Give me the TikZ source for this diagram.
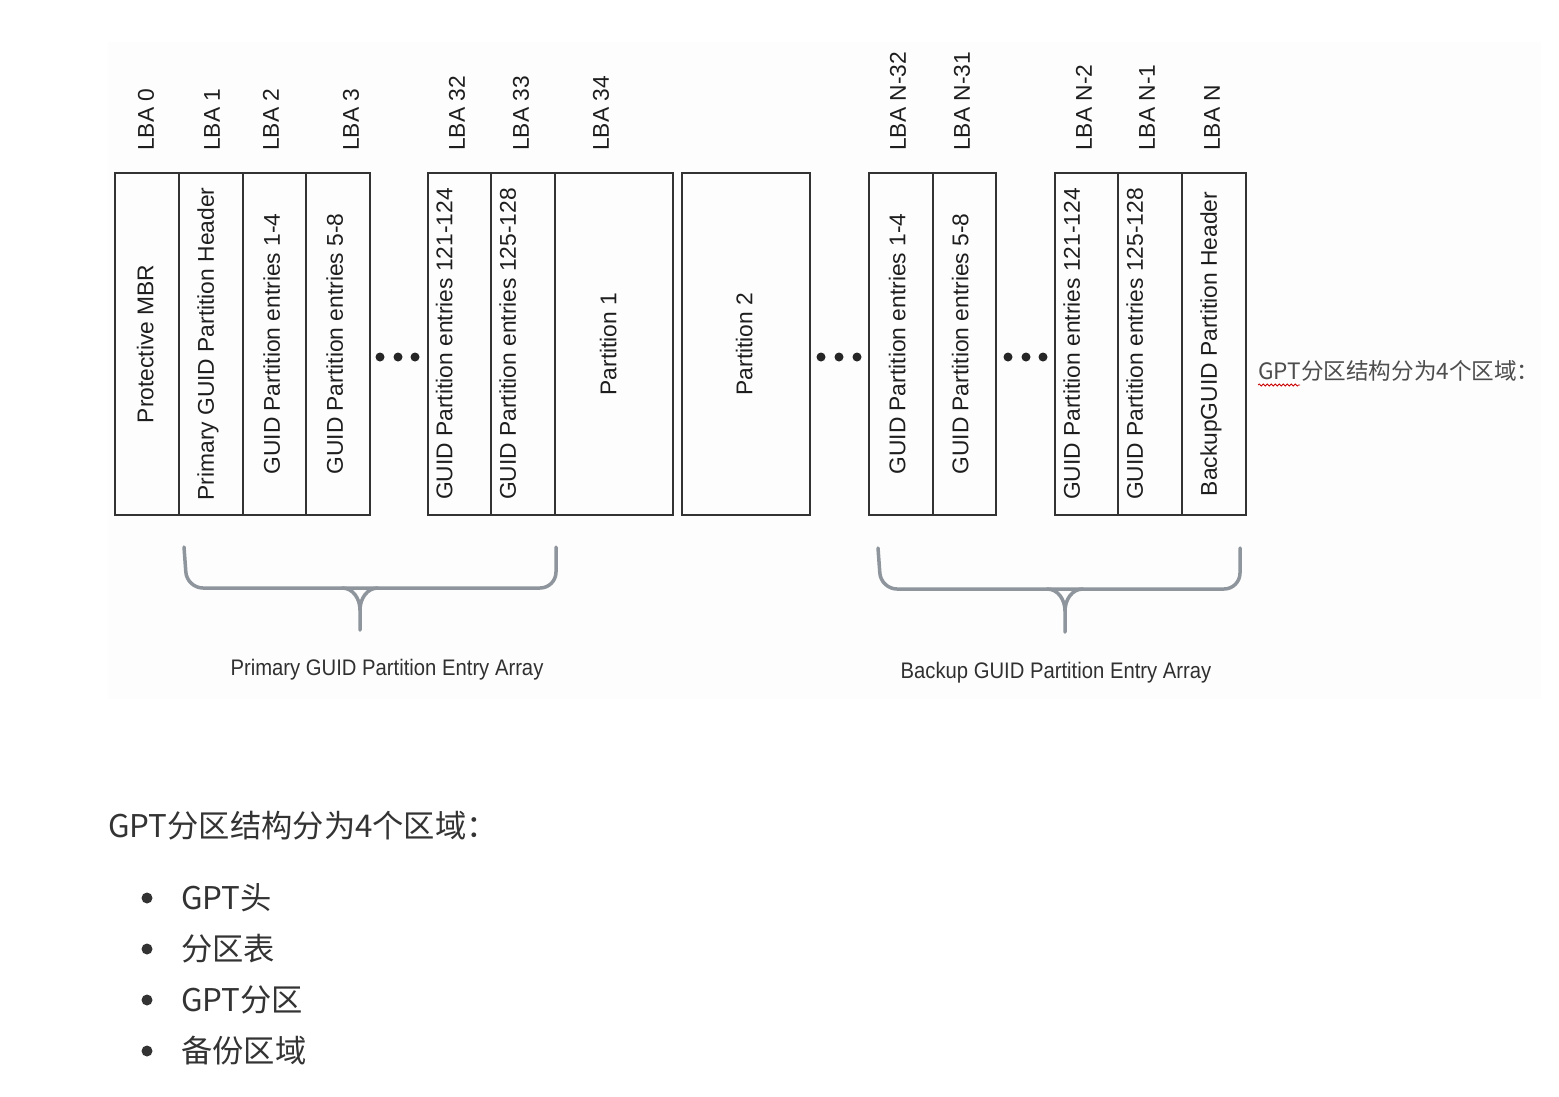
\documentclass[tikz,border=0pt]{standalone}
\usepackage{fontspec}
\setmainfont{Liberation Sans}
\newfontfamily\cjk{Noto Sans CJK SC}
\usetikzlibrary{decorations.pathmorphing}
\definecolor{boxline}{HTML}{333333}
\definecolor{celltext}{HTML}{1E1E1E}
\definecolor{bracegray}{HTML}{8E959C}
\definecolor{labeltext}{HTML}{303030}
\definecolor{sidetext}{HTML}{4D4D4D}
\definecolor{bodytext}{HTML}{333333}
\definecolor{bgpanel}{HTML}{FCFDFC}
\begin{document}
\begin{tikzpicture}[
	x=1pt, y=-1pt,
	cell/.style={
		rectangle,
		draw=boxline,
		line width=1.3pt,
		rotate=90,
		minimum width=342pt,
		inner sep=0pt,
		font=\fontsize{22.8}{26}\selectfont,
		text=celltext
	},
	lift/.style={text depth=#1},% pushes the rotated text to the left
	lba/.style={
		rotate=90,
		anchor=west,
		inner sep=0pt,
		font=\fontsize{22.8}{26}\selectfont,
		text=celltext
	},
	dot/.style={circle, fill=black!85, minimum size=9pt, inner sep=0pt},
	brace/.style={% Curly braces under the entry arrays
		draw=bracegray,
		line width=3.5pt,
		line cap=round,
	},
	arraylabel/.style={font=\fontsize{22.5}{26}\selectfont, xscale=.9, text=labeltext},
	bullet/.style={circle, fill=bodytext, minimum size=11pt, inner sep=0pt},
	item/.style={anchor=west, inner sep=0pt, font=\cjk\fontsize{31.3}{37}\selectfont, text=bodytext},
]
	\useasboundingbox (0,0) rectangle (1559,1096);
	\fill [bgpanel] (108,42) rectangle (1541,699);

	\node [cell, minimum height=64pt, lift=4pt] (mbr) at (147,344) {Protective MBR};
	\node [cell, minimum height=64pt, lift=11pt] (phdr) at (211,344) {Primary GUID Partition Header};
	\node [cell, minimum height=63pt, lift=6pt] (pe1) at (274.5,344) {GUID Partition entries 1-4};
	\node [cell, minimum height=64pt, lift=7pt] (pe5) at (338,344) {GUID Partition entries 5-8};

	\node [cell, minimum height=63pt, lift=31pt] (pe121) at (459.5,344) {GUID Partition entries 121-124};
	\node [cell, minimum height=64pt, lift=31pt] (pe125) at (523,344) {GUID Partition entries 125-128};
	\node [cell, minimum height=118pt, lift=12pt] (part1) at (614,344) {Partition 1};

	\node [cell, minimum height=128pt, lift=4pt] (part2) at (746,344) {Partition 2};

	\node [cell, minimum height=64pt, lift=8pt] (be1) at (901,344) {GUID Partition entries 1-4};
	\node [cell, minimum height=63pt, lift=9pt] (be5) at (964.5,344) {GUID Partition entries 5-8};

	\node [cell, minimum height=63pt, lift=30pt] (be121) at (1086.5,344) {GUID Partition entries 121-124};
	\node [cell, minimum height=64pt, lift=31pt] (be125) at (1150,344) {GUID Partition entries 125-128};
	\node [cell, minimum height=64pt, lift=11pt] (bhdr) at (1214,344) {BackupGUID Partition Header};

	\foreach \x [count=\i] in {380,398,415} \node [dot] (dA\i) at (\x,357) {};
	\foreach \x [count=\i] in {821,839,857} \node [dot] (dB\i) at (\x,357) {};
	\foreach \x [count=\i] in {1008,1026,1043} \node [dot] (dC\i) at (\x,357) {};

	\node [lba] (lba0) at (146,151) {LBA 0};
	\node [lba] (lba1) at (212,151) {LBA 1};
	\node [lba] (lba2) at (271,151) {LBA 2};
	\node [lba] (lba3) at (351,151) {LBA 3};
	\node [lba] (lba32) at (457,151) {LBA 32};
	\node [lba] (lba33) at (521,151) {LBA 33};
	\node [lba] (lba34) at (601,151) {LBA 34};
	\node [lba] (lbaN32) at (898,151) {LBA N-32};
	\node [lba] (lbaN31) at (962,151) {LBA N-31};
	\node [lba] (lbaN2) at (1084,151) {LBA N-2};
	\node [lba] (lbaN1) at (1147,151) {LBA N-1};
	\node [lba] (lbaN) at (1212,151) {LBA N};

	\draw [brace, rounded corners=16pt] (184,547) -- (187,588) -- (556,588) -- (556,547);
	\draw [brace] (342,588) to[out=0,in=90] (360,610) -- (360,630);
	\draw [brace] (378,588) to[out=180,in=90] (360,610);
	\node [arraylabel] (parray) at (387,670) {Primary GUID Partition Entry Array};

	\draw [brace, rounded corners=16pt] (878,548) -- (881,589) -- (1240,589) -- (1240,548);
	\draw [brace] (1047,589) to[out=0,in=90] (1065,611) -- (1065,632);
	\draw [brace] (1083,589) to[out=180,in=90] (1065,611);
	\node [arraylabel] (barray) at (1056,673) {Backup GUID Partition Entry Array};

	\node [anchor=west, inner sep=0pt, font=\cjk\fontsize{22.6}{26}\selectfont, text=sidetext] (note) at (1258,371) {GPT分区结构分为4个区域：};
	\draw [red!80!black, line width=.8pt, decorate, decoration={snake, amplitude=1pt, segment length=4pt}] (1258,385) -- (1300,385);

	\node [item] (intro) at (108,826) {GPT分区结构分为4个区域：};
	\foreach \t [count=\i] in {GPT头,分区表,GPT分区,备份区域} {
		\node [bullet] (b\i) at (147,{847+51*\i}) {};
		\node [item] (it\i) at (181,{847+51*\i}) {\t};
	}
\end{tikzpicture}
\end{document}
